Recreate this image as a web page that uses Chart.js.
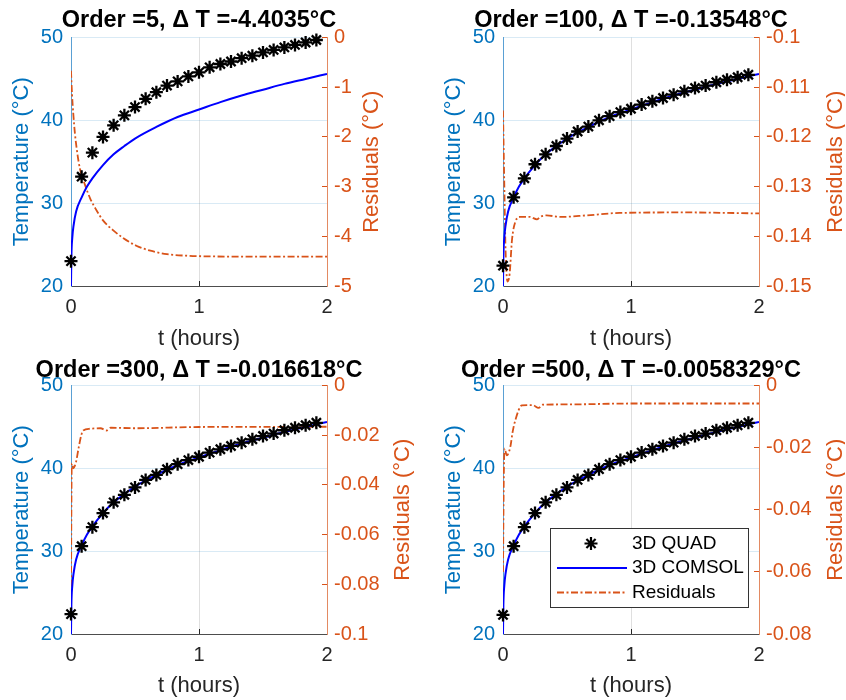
<!DOCTYPE html>
<html>
<head>
<meta charset="utf-8">
<script src="https://cdn.jsdelivr.net/npm/chart.js@4.4.1/dist/chart.umd.min.js"></script>
<style>
  html, body { margin: 0; padding: 0; background: #fff; width: 846px; height: 700px; overflow: hidden; position: relative; }
  canvas { position: absolute; }
</style>
</head>
<body>
<script>
const FONT = "'Liberation Sans', Arial, Helvetica, sans-serif";

// sample times of the QUAD solution (hours)
const quadTimes = [0, 0.083, 0.167, 0.25, 0.333, 0.417, 0.5, 0.583, 0.667, 0.75, 0.833, 0.917,
                   1.0, 1.083, 1.167, 1.25, 1.333, 1.417, 1.5, 1.583, 1.667, 1.75, 1.833, 1.917];
const quadOrder5 = [23.0, 33.2, 36.1, 38.0, 39.4, 40.6, 41.6, 42.6, 43.4, 44.2, 44.7, 45.3,
                    45.8, 46.4, 46.8, 47.1, 47.5, 47.8, 48.2, 48.5, 48.8, 49.1, 49.4, 49.7];
const quadOrder100 = [22.45, 30.7, 33.0, 34.7, 35.9, 36.9, 37.8, 38.65, 39.25, 40.0, 40.5, 41.0,
                      41.4, 41.9, 42.3, 42.7, 43.1, 43.5, 43.9, 44.2, 44.6, 44.9, 45.2, 45.5];
const quadOrder300 = [22.4, 30.6, 32.9, 34.6, 35.9, 36.8, 37.7, 38.6, 39.2, 39.9, 40.5, 41.0,
                      41.4, 41.9, 42.3, 42.7, 43.1, 43.5, 43.9, 44.2, 44.6, 44.9, 45.2, 45.5];
const quadOrder500 = [22.3, 30.6, 32.9, 34.6, 35.9, 36.8, 37.7, 38.6, 39.2, 39.9, 40.5, 41.0,
                      41.4, 41.9, 42.3, 42.7, 43.1, 43.5, 43.9, 44.2, 44.6, 44.9, 45.2, 45.5];

// COMSOL reference curve
const comsolTimes = [0, 0.003, 0.01, 0.02, 0.04, 0.0833, 0.125, 0.167, 0.25, 0.333, 0.417, 0.5,
                     0.667, 0.833, 1.0, 1.167, 1.333, 1.5, 1.667, 1.833, 2.0];
const comsolTemps = [20, 23.5, 25.8, 27.3, 29.0, 30.7, 32.0, 33.0, 34.6, 35.9, 36.9, 37.8,
                     39.2, 40.4, 41.3, 42.2, 43.0, 43.7, 44.4, 45.0, 45.6];

// residuals (°C)
const resTimes5 = [0, 0.008, 0.018, 0.031, 0.05, 0.07, 0.11, 0.15, 0.2, 0.25, 0.33, 0.41, 0.51, 0.62, 0.75, 0.9, 1.0, 1.5, 2.0];
const resValues5 = [-0.67, -1.14, -1.54, -1.94, -2.34, -2.64, -2.97, -3.24, -3.48, -3.68, -3.88, -4.04, -4.19, -4.29, -4.36, -4.39, -4.40, -4.41, -4.41];
const resTimes100 = [0, 0.01, 0.02, 0.036, 0.052, 0.07, 0.096, 0.135, 0.21, 0.265, 0.29, 0.34, 0.45, 0.65, 0.91, 1.43, 2.0];
const resValues100 = [-0.1147, -0.1294, -0.1428, -0.1491, -0.1475, -0.1408, -0.1371, -0.1361, -0.1361, -0.1366, -0.1361,
                      -0.1358, -0.1361, -0.1358, -0.1353, -0.1352, -0.1354];
const resTimes300 = [0, 0.006, 0.018, 0.039, 0.06, 0.08, 0.096, 0.148, 0.23, 0.279, 0.31, 0.5, 1.0, 2.0];
const resValues300 = [-0.081, -0.0313, -0.0333, -0.0308, -0.025, -0.02, -0.0181, -0.0174, -0.0172, -0.0181, -0.017, -0.0172, -0.0167, -0.0166];
const resTimes500 = [0, 0.006, 0.012, 0.03, 0.057, 0.075, 0.096, 0.148, 0.23, 0.278, 0.31, 0.5, 1.0, 2.0];
const resValues500 = [-0.06, -0.03, -0.0203, -0.0225, -0.0198, -0.015, -0.0112, -0.0064, -0.0063, -0.0072, -0.0062, -0.0061, -0.0058, -0.0058];

// tick labels
const timeTicks = [0, 1, 2];
const tempTicks = [20, 30, 40, 50];
const resTicks5 = [0, -1, -2, -3, -4, -5];
const resTicks100 = [-0.1, -0.11, -0.12, -0.13, -0.14, -0.15];
const resTicks300 = [0, -0.02, -0.04, -0.06, -0.08, -0.1];
const resTicks500 = [0, -0.02, -0.04, -0.06, -0.08];

const seriesLabels = ['3D QUAD', '3D COMSOL', 'Residuals'];

const BLUE_AX = '#0072BD';
const ORANGE_AX = '#D95319';

function pts(xs, ys) {
    return xs.map((x, i) => ({ x: x, y: ys[i] }));
}

// right-hand ylabel reads bottom-to-top like MATLAB's
const sideTitle = {
    id: 'sideTitle',
    afterDraw(chart, args, opts) {
        const { ctx, chartArea } = chart;
        ctx.save();
        ctx.translate(chartArea.right + opts.offset, (chartArea.top + chartArea.bottom) / 2);
        ctx.rotate(-Math.PI / 2);
        ctx.font = `22px ${FONT}`;
        ctx.fillStyle = ORANGE_AX;
        ctx.textAlign = 'center';
        ctx.textBaseline = 'middle';
        ctx.fillText(opts.text, 0, 0);
        ctx.restore();
    }
};

const boxLegend = {
    id: 'boxLegend',
    afterDraw(chart, args, opts) {
        if (!opts.show) return;
        const { ctx, chartArea } = chart;
        const w = 198, h = 79;
        const x0 = Math.round(chartArea.right - 11 - w), y0 = Math.round(chartArea.bottom - 27 - h);
        ctx.save();
        ctx.fillStyle = '#fff';
        ctx.fillRect(x0, y0, w, h);
        ctx.strokeStyle = '#333';
        ctx.lineWidth = 1;
        ctx.strokeRect(x0 + 0.5, y0 + 0.5, w, h);
        ctx.font = `19px ${FONT}`;
        ctx.textBaseline = 'middle';
        chart.data.datasets.forEach((ds, i) => {
            const y = y0 + 15.5 + i * 24.5;
            ctx.strokeStyle = ds.borderColor;
            if (ds.showLine === false) {
                const cx = x0 + 41, r = 6.5;
                ctx.lineWidth = 2.2;
                ctx.setLineDash([]);
                ctx.beginPath();
                for (let k = 0; k < 4; k++) {
                    const a = k * Math.PI / 4;
                    ctx.moveTo(cx - r * Math.cos(a), y - r * Math.sin(a));
                    ctx.lineTo(cx + r * Math.cos(a), y + r * Math.sin(a));
                }
                ctx.stroke();
            } else {
                ctx.lineWidth = ds.borderWidth;
                ctx.setLineDash(ds.borderDash || []);
                ctx.beginPath();
                ctx.moveTo(x0 + 7, y);
                ctx.lineTo(x0 + 77, y);
                ctx.stroke();
            }
            ctx.fillStyle = '#000';
            ctx.fillText(ds.label, x0 + 82, y);
        });
        ctx.restore();
    }
};

// panel placement: canvases are centred on their plot area so the title centres over it
const panels = [
    { left: -16, top: 0,   width: 430, height: 350, axisW: 87, xH: 64, titlePad: [9, 5], yTitlePad: 27, xTitlePad: 0,
      title: 'Order =5, \u0394 T =-4.4035\u00B0C', quad: quadOrder5, resT: resTimes5, resV: resValues5, resTicks: resTicks5, rOff: 45 },
    { left: 417, top: 0,   width: 428, height: 350, axisW: 86, xH: 64, titlePad: [9, 5], yTitlePad: 26, xTitlePad: 0,
      title: 'Order =100, \u0394 T =-0.13548\u00B0C', quad: quadOrder100, resT: resTimes100, resV: resValues100, resTicks: resTicks100, rOff: 77 },
    { left: -16, top: 350, width: 430, height: 350, axisW: 87, xH: 66, titlePad: [9, 3], yTitlePad: 27, xTitlePad: 3,
      title: 'Order =300, \u0394 T =-0.016618\u00B0C', quad: quadOrder300, resT: resTimes300, resV: resValues300, resTicks: resTicks300, rOff: 76 },
    { left: 417, top: 350, width: 428, height: 350, axisW: 86, xH: 66, titlePad: [9, 3], yTitlePad: 26, xTitlePad: 3,
      title: 'Order =500, \u0394 T =-0.0058329\u00B0C', quad: quadOrder500, resT: resTimes500, resV: resValues500, resTicks: resTicks500, rOff: 77, legend: true }
];

panels.forEach(p => {
    const canvas = document.createElement('canvas');
    canvas.width = p.width;
    canvas.height = p.height;
    canvas.style.left = p.left + 'px';
    canvas.style.top = p.top + 'px';
    document.body.appendChild(canvas);

    const rMin = Math.min(...p.resTicks), rMax = Math.max(...p.resTicks);

    new Chart(canvas.getContext('2d'), {
        type: 'line',
        data: {
            datasets: [
                { label: seriesLabels[0], data: pts(quadTimes, p.quad), yAxisID: 'y', showLine: false,
                  pointStyle: 'star', pointRadius: 6.5, pointBorderWidth: 2.3, borderColor: '#000', backgroundColor: '#000',
                  clip: false, order: 0 },
                { label: seriesLabels[1], data: pts(comsolTimes, comsolTemps), yAxisID: 'y', borderColor: '#0000FF',
                  borderWidth: 2, pointRadius: 0, cubicInterpolationMode: 'monotone', order: 1 },
                { label: seriesLabels[2], data: pts(p.resT, p.resV), yAxisID: 'y2', borderColor: ORANGE_AX,
                  borderWidth: 1.8, borderDash: [7, 2.5, 2, 2.5], pointRadius: 0, cubicInterpolationMode: 'monotone', order: 2 }
            ]
        },
        options: {
            responsive: false,
            animation: false,
            events: [],
            layout: { padding: 0 },
            scales: {
                x: {
                    type: 'linear', min: 0, max: 2,
                    afterBuildTicks: s => { s.ticks = timeTicks.map(v => ({ value: v })); },
                    afterFit: s => { s.height = p.xH; },
                    ticks: { color: '#262626', font: { family: FONT, size: 20 }, padding: 14.5, maxRotation: 0,
                             callback: v => String(v) },
                    grid: { color: 'rgba(38,38,38,0.15)', drawTicks: true, tickLength: -5, tickColor: '#262626' },
                    border: { color: '#4d4d4d', width: 1 },
                    title: { display: true, text: 't (hours)', color: '#262626',
                             font: { family: FONT, size: 22, lineHeight: 1 }, padding: { top: 0, bottom: p.xTitlePad } }
                },
                y: {
                    type: 'linear', position: 'left', min: 20, max: 50,
                    afterBuildTicks: s => { s.ticks = tempTicks.map(v => ({ value: v })); },
                    afterFit: s => { s.width = p.axisW; },
                    ticks: { color: BLUE_AX, font: { family: FONT, size: 20 }, padding: 8, callback: v => String(v) },
                    grid: { color: 'rgba(0,114,189,0.15)', drawTicks: false },
                    border: { color: '#5aa0d4', width: 1 },
                    title: { display: true, text: 'Temperature (\u00B0C)', color: BLUE_AX,
                             font: { family: FONT, size: 22, lineHeight: 1 }, padding: { top: p.yTitlePad, bottom: 0 } }
                },
                y2: {
                    type: 'linear', position: 'right', min: rMin, max: rMax,
                    afterBuildTicks: s => { s.ticks = p.resTicks.map(v => ({ value: v })); },
                    afterFit: s => { s.width = p.axisW; },
                    ticks: { color: ORANGE_AX, font: { family: FONT, size: 20 }, padding: 12,
                             callback: v => String(+(+v).toFixed(4)) },
                    grid: { drawOnChartArea: false, drawTicks: true, tickLength: -5, color: ORANGE_AX, tickColor: ORANGE_AX },
                    border: { color: '#e38a62', width: 1 }
                }
            },
            plugins: {
                legend: { display: false },
                tooltip: { enabled: false },
                title: { display: true, text: p.title, color: '#000',
                         font: { family: FONT, size: 23.5, weight: 'bold', lineHeight: 1 },
                         padding: { top: p.titlePad[0], bottom: p.titlePad[1] } },
                sideTitle: { text: 'Residuals (\u00B0C)', offset: p.rOff },
                boxLegend: { show: !!p.legend }
            }
        },
        plugins: [sideTitle, boxLegend]
    });
});
</script>
</body>
</html>
